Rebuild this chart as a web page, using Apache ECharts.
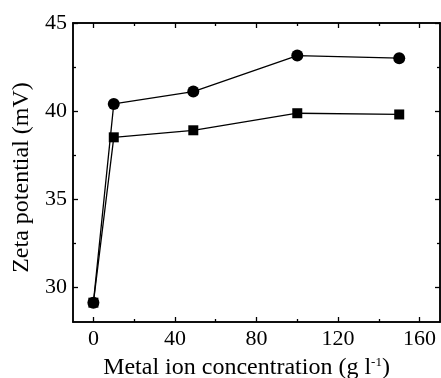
<!DOCTYPE html>
<html>
<head>
<meta charset="utf-8">
<script src="https://cdn.jsdelivr.net/npm/echarts@6/dist/echarts.min.js"></script>
<style>
  html, body { margin: 0; padding: 0; background: #fff; }
  #chart { width: 441px; height: 378px; }
</style>
</head>
<body>
<div id="chart"></div>
<script>
// metal ion concentration (g/l)
const concentration = [0, 10, 49, 100, 150];
// zeta potential (mV)
const circleSeries = [29.1, 40.4, 41.1, 43.15, 43.0];
const squareSeries = [29.1, 38.5, 38.9, 39.87, 39.8];

const xMajor = [0, 40, 80, 120, 160];
const xMinor = [20, 60, 100, 140];
const yMajor = [30, 35, 40, 45];
const yMinor = [32.5, 37.5, 42.5];

const font = '"Liberation Serif", "Times New Roman", Times, serif';
const myChart = echarts.init(document.querySelector('#chart'));

function xAxisOf(pos, ticks, len, labels, name) {
    return {
        type: 'value',
        position: pos,
        min: -10,
        max: 170,
        name: name || '',
        nameLocation: 'middle',
        nameGap: 34,
        nameTextStyle: {
            fontFamily: font, fontSize: 24, color: '#000', padding: [0, 20, 0, 0],
            rich: { sup: { fontFamily: font, fontSize: 13, color: '#000', padding: [0, 0, 11, 0] } }
        },
        axisLine: { show: true, onZero: false, lineStyle: { color: '#000', width: 1.5 } },
        axisTick: { show: true, inside: true, length: len, customValues: ticks, lineStyle: { color: '#000', width: 1.3 } },
        axisLabel: labels ? { show: true, customValues: ticks, margin: 6, fontFamily: font, fontSize: 22, color: '#000' } : { show: false },
        splitLine: { show: false }
    };
}
function yAxisOf(pos, ticks, len, labels, name) {
    return {
        type: 'value',
        position: pos,
        min: 28,
        max: 45,
        name: name || '',
        nameLocation: 'middle',
        nameGap: 38,
        nameTextStyle: { fontFamily: font, fontSize: 24, color: '#000', padding: [0, 10, 0, 0] },
        axisLine: { show: true, onZero: false, lineStyle: { color: '#000', width: 1.5 } },
        axisTick: { show: true, inside: true, length: len, customValues: ticks, lineStyle: { color: '#000', width: 1.3 } },
        axisLabel: labels ? { show: true, customValues: ticks, margin: 6, fontFamily: font, fontSize: 22, color: '#000' } : { show: false },
        splitLine: { show: false }
    };
}

const option = {
    animation: false,
    grid: { left: 73, right: 1, top: 23, bottom: 56, outerBoundsMode: 'none' },
    xAxis: [
        xAxisOf('bottom', xMajor, 5, true, 'Metal ion concentration (g l{sup|-1})'),
        xAxisOf('bottom', xMinor, 3, false),
        xAxisOf('top', xMajor, 5, false),
        xAxisOf('top', xMinor, 3, false)
    ],
    yAxis: [
        yAxisOf('left', yMajor, 5, true, 'Zeta potential (mV)'),
        yAxisOf('left', yMinor, 3, false),
        yAxisOf('right', yMajor, 5, false),
        yAxisOf('right', yMinor, 3, false)
    ],
    series: [
        {
            type: 'line',
            data: concentration.map((x, i) => [x, circleSeries[i]]),
            symbol: 'circle',
            symbolSize: 12,
            lineStyle: { color: '#000', width: 1.3 },
            itemStyle: { color: '#000' }
        },
        {
            type: 'line',
            data: concentration.map((x, i) => [x, squareSeries[i]]),
            symbol: 'rect',
            symbolSize: 10,
            lineStyle: { color: '#000', width: 1.3 },
            itemStyle: { color: '#000' }
        }
    ]
};
myChart.setOption(option);
</script>
</body>
</html>
